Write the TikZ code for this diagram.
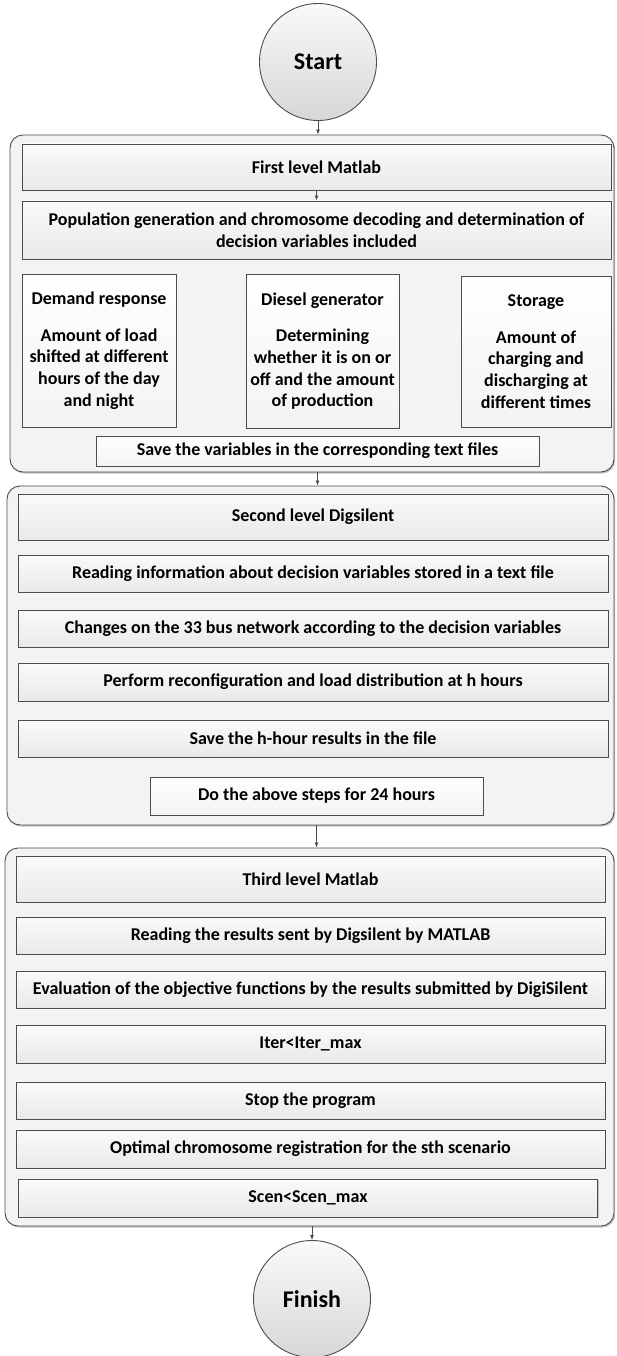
\documentclass[tikz,border=0pt]{standalone}
\usepackage{fontspec}
\setmainfont{Carlito}
\usetikzlibrary{arrows.meta,shadows}
\definecolor{edgec}{HTML}{4D4D4D}
\definecolor{panelc}{HTML}{F3F3F3}
\definecolor{boxtop}{HTML}{FAFAFA}
\definecolor{boxbot}{HTML}{E9E9E9}
\tikzset{
  panel/.style={draw=edgec, line width=0.9pt, fill=panelc, rounded corners=13pt, inner sep=0pt,
    drop shadow={shadow xshift=1.2pt, shadow yshift=-1.5pt, opacity=0.25, fill=black}},
  gbox/.style={draw=edgec, line width=0.9pt, top color=boxtop, bottom color=boxbot, inner sep=0pt,
    align=center, font=\fontsize{18}{21.7}\selectfont\bfseries,
    drop shadow={shadow xshift=1pt, shadow yshift=-1pt, opacity=0.2, fill=black}},
  wbox/.style={gbox, top color=white, bottom color=boxtop!60!boxbot},
  term/.style={circle, draw=edgec, line width=0.9pt, top color=boxtop, bottom color=boxbot!92!black,
    minimum size=117pt, inner sep=0pt, font=\fontsize{24}{28}\selectfont\bfseries},
  arr/.style={draw=edgec, line width=0.8pt, -{Latex[length=5pt,width=4pt]}}
}
\begin{document}
\begin{tikzpicture}[x=1pt,y=-1pt]
\useasboundingbox (0,0) rectangle (616,1356);

% terminals
\node[term] (start) at (318,62) {Start};
\node[term] (finish) at (312,1299) {Finish};

% panels
\node[panel, minimum width=604pt, minimum height=337pt] (p1) at (312,303.5) {};
\node[panel, minimum width=607pt, minimum height=339pt] (p2) at (310.5,655.5) {};
\node[panel, minimum width=609pt, minimum height=378pt] (p3) at (309.5,1037) {};

% level 1
\node[gbox, minimum width=589pt, minimum height=46pt] (first) at (316.5,167) {First level Matlab};
\node[gbox, minimum width=589pt, minimum height=58pt] (pop) at (316.5,230)
  {Population generation and chromosome decoding and determination of\\decision variables included};
\node[wbox, minimum width=154pt, minimum height=153pt] (dr) at (99,350.5)
  {Demand response\\[15pt]Amount of load\\shifted at different\\hours of the day\\and night};
\node[wbox, minimum width=153pt, minimum height=154pt] (dg) at (322.5,351)
  {Diesel generator\\[15pt]Determining\\whether it is on or\\off and the amount\\of production};
\node[wbox, minimum width=150pt, minimum height=151pt] (st) at (536,351.5)
  {Storage\\[15pt]Amount of\\charging and\\discharging at\\different times};
\node[wbox, minimum width=443pt, minimum height=30pt] (save) at (317.5,451)
  {Save the variables in the corresponding text files};

% level 2
\node[gbox, minimum width=590pt, minimum height=46pt] (second) at (313,517) {Second level Digsilent};
\node[gbox, minimum width=590pt, minimum height=37pt] (readinfo) at (313,573.5)
  {Reading information about decision variables stored in a text file};
\node[gbox, minimum width=590pt, minimum height=37pt] (changes) at (313,628.5)
  {Changes on the 33 bus network according to the decision variables};
\node[gbox, minimum width=590pt, minimum height=38pt] (perform) at (313,682)
  {Perform reconfiguration and load distribution at h hours};
\node[gbox, minimum width=590pt, minimum height=37pt] (saveh) at (313,738.5)
  {Save the h-hour results in the file};
\node[wbox, minimum width=333pt, minimum height=38pt] (doabove) at (316.5,796)
  {Do the above steps for 24 hours};

% level 3
\node[gbox, minimum width=589pt, minimum height=46pt] (third) at (310.5,879) {Third level Matlab};
\node[gbox, minimum width=589pt, minimum height=37pt] (readres) at (310.5,935.5)
  {Reading the results sent by Digsilent by MATLAB};
\node[gbox, minimum width=589pt, minimum height=37pt] (eval) at (310.5,989.5)
  {Evaluation of the objective functions by the results submitted by DigiSilent};
\node[gbox, minimum width=589pt, minimum height=38pt] (iter) at (310.5,1044) {Iter<Iter\_max};
\node[gbox, minimum width=589pt, minimum height=37pt] (stop) at (310.5,1100.5) {Stop the program};
\node[gbox, minimum width=589pt, minimum height=38pt] (optimal) at (310.5,1149)
  {Optimal chromosome registration for the sth scenario};
\node[gbox, minimum width=579pt, minimum height=38pt] (scen) at (308,1198) {Scen<Scen\_max};

% connectors
\draw[arr] (start.south) -- (start.south |- p1.north);
\draw[arr] (first.south) -- (pop.north);
\draw[arr] (p1.south -| save.south) -- (p2.north -| save.south);
\draw[arr] (p2.south -| doabove.south) -- (p3.north -| doabove.south);
\draw[arr] (finish.north |- p3.south) -- (finish.north);
\end{tikzpicture}
\end{document}
